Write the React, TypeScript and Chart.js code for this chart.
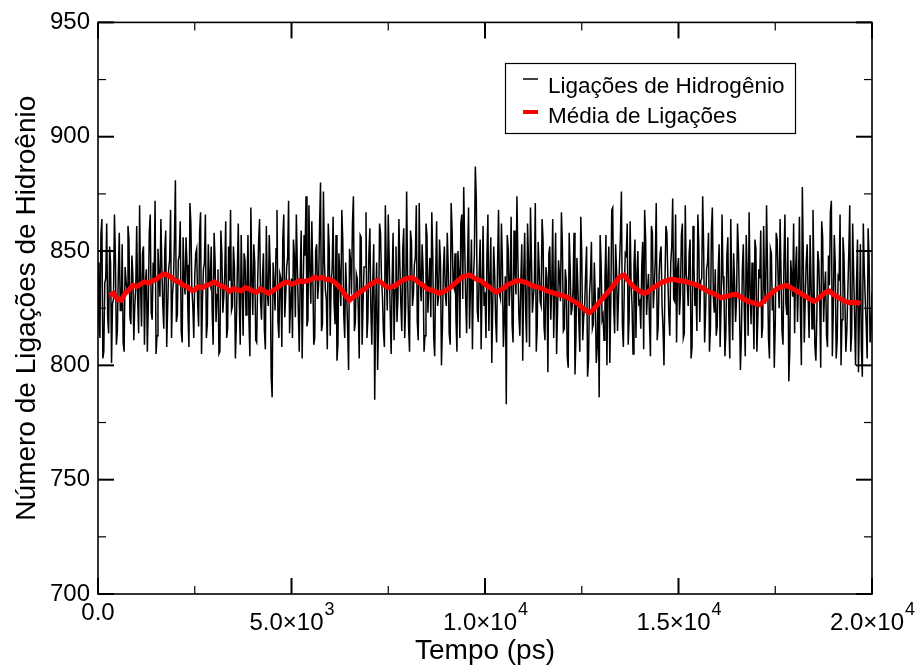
import React, { useEffect, useRef } from "react";
import { Chart, registerables } from "chart.js";

Chart.register(...registerables);

const FONT = "'Liberation Sans', Arial, Helvetica, sans-serif";

// Hydrogen-bond count, samples at 0, 50, 100 ... 20000 ps
const hbStartPs = 0;
const hbStepPs = 50;
const hbCounts = [
  845, 812, 864, 806, 838, 821, 852, 801, 829, 847, 815, 858, 824, 810, 843, 833, 855, 818, 840, 826,
  861, 814, 834, 849, 809, 842, 827, 866, 820, 838, 805, 851, 830, 843, 816, 859, 825, 846, 812, 837,
  881, 822, 848, 815, 856, 831, 844, 808, 862, 826, 839, 851, 817, 867, 829, 845, 812, 853, 835, 824,
  858, 819, 842, 806, 849, 830, 863, 816, 837, 824, 852, 803, 841, 828, 857, 813, 846, 833, 820, 869,
  822, 845, 810, 854, 828, 839, 815, 861, 826, 843, 786, 836, 851, 819, 840, 808, 866, 830, 847, 814,
  838, 855, 821, 844, 806, 859, 832, 848, 817, 870, 827, 841, 812, 853, 835, 880, 818, 846, 829, 862,
  813, 842, 827, 857, 809, 839, 868, 822, 845, 816, 851, 831, 874, 819, 838, 803, 856, 828, 843, 812,
  849, 825, 836, 785, 845, 818, 858, 830, 808, 841, 866, 823, 837, 811, 852, 829, 844, 815, 860, 826,
  839, 806, 854, 831, 847, 819, 871, 828, 842, 813, 857, 835, 821, 848, 804, 863, 830, 845, 817, 852,
  826, 843, 809, 859, 834, 820, 850, 812, 866, 878, 829, 845, 816, 855, 838, 887, 824, 841, 807, 861,
  832, 848, 815, 856, 826, 840, 810, 868, 829, 844, 821, 783, 851, 836, 818, 859, 831, 846, 813, 853,
  839, 824, 862, 808, 847, 830, 871, 817, 842, 826, 855, 811, 838, 849, 820, 864, 833, 805, 846, 828,
  852, 816, 837, 799, 843, 825, 858, 812, 834, 806, 849, 821, 840, 795, 831, 854, 818, 829, 808, 786,
  845, 822, 838, 800, 852, 827, 869, 814, 841, 830, 857, 818, 835, 848, 809, 863, 826, 844, 812, 850,
  828, 843, 807, 856, 833, 819, 861, 825, 846, 811, 840, 852, 816, 837, 858, 822, 845, 873, 828, 810,
  847, 831, 862, 814, 840, 826, 855, 808, 843, 834, 866, 819, 838, 851, 823, 845, 806, 859, 830, 842,
  817, 853, 826, 839, 804, 848, 821, 864, 811, 836, 829, 850, 798, 842, 824, 857, 813, 834, 845, 807,
  851, 820, 838, 812, 861, 827, 843, 803, 849, 832, 818, 855, 825, 840, 809, 866, 822, 793, 846, 830,
  814, 852, 836, 823, 878, 810, 845, 829, 857, 816, 839, 802, 850, 827, 863, 819, 841, 808, 835, 872,
  824, 845, 811, 838, 800, 856, 828, 815, 849, 806, 862, 821, 836, 797, 853, 795, 842, 818, 860, 810,
  832,
];

// Hydrogen-bond count, samples at 25, 75, 125 ... 19975 ps
const hbMidStartPs = 25;
const hbMidCounts = [
  818, 857, 803, 836, 862, 814, 845, 827, 866, 809, 840, 824, 853, 806, 837, 861, 821, 848, 811, 834,
  829, 870, 817, 852, 836, 806, 858, 823, 845, 872, 813, 839, 864, 826, 850, 808, 842, 868, 831, 855,
  819, 846, 863, 810, 838, 856, 822, 871, 834, 812, 849, 827, 858, 805, 842, 866, 818, 837, 852, 809,
  846, 831, 805, 859, 823, 840, 812, 852, 868, 826, 843, 818, 862, 809, 835, 849, 822, 857, 804, 838,
  853, 811, 836, 864, 820, 849, 807, 832, 857, 795, 845, 824, 868, 812, 838, 855, 821, 843, 872, 827,
  812, 848, 866, 825, 839, 803, 857, 874, 820, 842, 863, 809, 850, 829, 861, 815, 876, 833, 807, 851,
  836, 865, 818, 802, 849, 826, 855, 812, 831, 798, 846, 862, 815, 840, 825, 857, 809, 843, 867, 821,
  860, 809, 853, 826, 798, 862, 838, 815, 870, 824, 846, 805, 858, 833, 819, 864, 827, 851, 812, 876,
  817, 859, 826, 844, 870, 811, 838, 853, 806, 862, 823, 847, 867, 812, 840, 826, 855, 800, 842, 831,
  858, 814, 871, 836, 849, 806, 841, 862, 829, 853, 814, 869, 835, 807, 848, 873, 819, 855, 834, 826,
  812, 866, 837, 801, 852, 820, 845, 831, 862, 808, 839, 857, 826, 865, 810, 843, 874, 822, 836, 802,
  858, 810, 845, 869, 823, 836, 806, 854, 828, 864, 817, 843, 797, 852, 835, 812, 858, 824, 839, 867,
  815, 842, 804, 858, 822, 833, 796, 847, 819, 865, 811, 826, 852, 802, 839, 816, 845, 801, 834, 857,
  820, 811, 857, 839, 801, 868, 826, 853, 815, 844, 876, 808, 849, 862, 821, 836, 805, 855, 840, 827,
  816, 854, 868, 822, 840, 804, 858, 835, 871, 817, 849, 826, 800, 861, 838, 813, 852, 829, 866, 842,
  822, 857, 812, 870, 836, 849, 803, 861, 826, 815, 853, 837, 874, 810, 842, 858, 816, 869, 823, 813,
  841, 808, 866, 832, 815, 856, 803, 837, 849, 819, 862, 826, 813, 853, 804, 840, 867, 818, 829, 855,
  806, 842, 859, 817, 833, 870, 812, 851, 824, 799, 858, 837, 864, 815, 846, 827, 856, 806, 839, 862,
  842, 819, 865, 800, 847, 829, 853, 812, 837, 868, 808, 822, 845, 799, 856, 833, 813, 848, 867, 804,
  857, 803, 839, 866, 820, 848, 806, 832, 870, 814, 841, 800, 855, 823, 808, 862, 829, 803, 847, 816,
];

// Running average, sampled every 100 ps from 300 ps
const avgStartPs = 300;
const avgStepPs = 100;
const avgCounts = [
  830.5, 831.5, 829.0, 828.5, 831.5, 833.0, 835.0, 834.5, 835.5, 836.5,
  836.0, 837.0, 837.5, 839.0, 840.0, 839.5, 838.5, 837.0, 836.5, 835.0,
  834.5, 833.0, 833.0, 834.5, 834.0, 835.0, 835.5, 836.5, 835.5, 834.5,
  834.0, 832.5, 833.5, 833.0, 832.5, 834.0, 833.5, 832.5, 832.0, 833.5,
  832.5, 831.5, 832.5, 833.5, 835.0, 836.0, 836.5, 835.5, 836.0, 837.0,
  836.5, 837.0, 837.5, 838.5, 838.0, 838.5, 837.5, 837.5, 836.5, 835.0,
  833.0, 830.5, 828.5, 830.0, 831.0, 832.5, 833.5, 835.0, 836.0, 837.0,
  836.5, 835.0, 834.0, 834.5, 835.0, 836.5, 837.5, 838.0, 838.5, 837.5,
  836.0, 835.0, 833.5, 833.0, 832.5, 831.5, 832.0, 833.0, 834.0, 835.5,
  837.0, 838.5, 839.0, 839.5, 838.5, 837.5, 837.0, 835.5, 834.5, 833.0,
  832.0, 833.0, 834.0, 835.5, 836.0, 837.0, 837.0, 836.5, 836.0, 835.0,
  834.5, 834.0, 833.5, 832.5, 832.0, 831.5, 831.0, 830.5, 830.0, 829.0,
  828.0, 827.0, 825.5, 824.0, 823.0, 824.5, 826.5, 828.5, 830.5, 832.5,
  834.5, 837.0, 839.0, 839.5, 837.0, 835.0, 833.5, 832.5, 831.5, 832.0,
  833.5, 834.5, 835.5, 836.5, 837.0, 837.5, 837.5, 837.0, 837.0, 836.5,
  836.0, 835.5, 835.0, 834.0, 833.0, 832.0, 831.5, 830.5, 829.5, 830.0,
  830.5, 831.0, 831.0, 830.0, 829.0, 828.0, 827.5, 827.0, 826.5, 828.0,
  830.0, 831.5, 833.0, 834.0, 834.5, 835.0, 834.0, 833.0, 832.0, 831.0,
  830.0, 829.0, 828.0, 829.0, 830.5, 832.0, 832.5, 831.0, 830.0, 829.0,
  828.0, 827.5, 827.5, 827.5, 827.0,
];

const seriesLabels = ["Ligações de Hidrogênio", "Média de Ligações"];
const seriesColors = ["#000000", "#ff0000"];

const xMin = 0;
const xMax = 20000;
const yMin = 700;
const yMax = 950;
const yMajorStep = 50;
const yMinorStep = 25;
const xMajorStep = 5000;
const xMinorStep = 2500;

const xTickValues = [0, 5000, 10000, 15000, 20000];
const xTickMantissas = ["0.0", "5.0", "1.0", "1.5", "2.0"];
const xTickExponents = ["", "3", "4", "4", "4"];

const xTitle = "Tempo (ps)";
const yTitle = "Número de Ligações de Hidroênio";

const decorPlugin = {
  id: "graceDecor",
  afterDatasetsDraw(chart: any) {
    const { ctx, chartArea: a, scales } = chart;
    const xs = scales.x;
    const ys = scales.y;
    ctx.save();
    ctx.strokeStyle = "#000";
    ctx.lineCap = "butt";
    const line = (x1: number, y1: number, x2: number, y2: number) => {
      ctx.beginPath();
      ctx.moveTo(x1, y1);
      ctx.lineTo(x2, y2);
      ctx.stroke();
    };
    for (let v = xMin; v <= xMax; v += xMinorStep) {
      const major = v % xMajorStep === 0;
      const len = major ? 16 : 8;
      ctx.lineWidth = major ? 2 : 1.2;
      const px = xs.getPixelForValue(v);
      line(px, a.bottom, px, a.bottom - len);
      line(px, a.top, px, a.top + len);
    }
    for (let v = yMin; v <= yMax; v += yMinorStep) {
      const major = v % yMajorStep === 0;
      const len = major ? 16 : 8;
      ctx.lineWidth = major ? 2 : 1.2;
      const py = ys.getPixelForValue(v);
      line(a.left, py, a.left + len, py);
      line(a.right, py, a.right - len, py);
    }
    ctx.lineWidth = 1.6;
    ctx.strokeRect(a.left, a.top, a.right - a.left, a.bottom - a.top);

    ctx.fillStyle = "#000";
    ctx.textBaseline = "alphabetic";
    xTickValues.forEach((v, i) => {
      const px = xs.getPixelForValue(v);
      const exp = xTickExponents[i];
      if (!exp) {
        ctx.font = `24px ${FONT}`;
        ctx.textAlign = "center";
        ctx.fillText(xTickMantissas[i], px, a.bottom + 26);
      } else {
        const base = `${xTickMantissas[i]}×10`;
        ctx.font = `24px ${FONT}`;
        const wb = ctx.measureText(base).width;
        ctx.font = `18px ${FONT}`;
        const we = ctx.measureText(exp).width;
        const x0 = px - (wb + we) / 2;
        ctx.textAlign = "left";
        ctx.font = `24px ${FONT}`;
        ctx.fillText(base, x0, a.bottom + 36);
        ctx.font = `18px ${FONT}`;
        ctx.fillText(exp, x0 + wb + 1, a.bottom + 21);
      }
    });

    const lx = 505.5;
    const ly = 63.5;
    const lw = 290;
    const lh = 70;
    ctx.fillStyle = "#fff";
    ctx.fillRect(lx, ly, lw, lh);
    ctx.lineWidth = 1.2;
    ctx.strokeStyle = "#000";
    ctx.strokeRect(lx, ly, lw, lh);
    const rows = [
      { sampleY: 79, textY: 93 },
      { sampleY: 112, textY: 123 },
    ];
    chart.data.datasets.forEach((ds: any, i: number) => {
      const r = rows[i];
      ctx.strokeStyle = ds.borderColor;
      ctx.lineWidth = i === 0 ? 1.5 : 4;
      line(523, r.sampleY, 538, r.sampleY);
      ctx.fillStyle = "#000";
      ctx.font = `22.5px ${FONT}`;
      ctx.textAlign = "left";
      ctx.textBaseline = "alphabetic";
      ctx.fillText(ds.label, 548, r.textY);
    });
    ctx.restore();
  },
};

export default function App() {
  const canvasRef = useRef<HTMLCanvasElement | null>(null);

  useEffect(() => {
    document.body.style.margin = "0";
    const canvas = canvasRef.current;
    if (!canvas) return;
    const hbData = [
      ...hbCounts.map((y, i) => ({ x: hbStartPs + i * hbStepPs, y })),
      ...hbMidCounts.map((y, i) => ({ x: hbMidStartPs + i * hbStepPs, y })),
    ].sort((p, q) => p.x - q.x);
    const avgData = avgCounts.map((y, i) => ({ x: avgStartPs + i * avgStepPs, y }));
    const chart = new Chart(canvas, {
      type: "line",
      data: {
        datasets: [
          {
            label: seriesLabels[0],
            data: hbData,
            borderColor: seriesColors[0],
            borderWidth: 1.5,
            pointRadius: 0,
            fill: false,
            tension: 0,
            order: 2,
          },
          {
            label: seriesLabels[1],
            data: avgData,
            borderColor: seriesColors[1],
            borderWidth: 5,
            pointRadius: 0,
            fill: false,
            tension: 0,
            order: 1,
          },
        ],
      },
      options: {
        animation: false,
        responsive: false,
        maintainAspectRatio: false,
        devicePixelRatio: 1,
        layout: { padding: { left: 0, top: 22, right: 48, bottom: 0 } },
        plugins: {
          legend: { display: false },
          tooltip: { enabled: false },
        },
        scales: {
          x: {
            type: "linear",
            min: xMin,
            max: xMax,
            grid: { display: false, drawTicks: false },
            border: { display: false },
            ticks: { display: false },
            title: {
              display: true,
              text: xTitle,
              color: "#000",
              font: { family: FONT, size: 28 },
              padding: { top: 0, bottom: 0 },
            },
            afterFit(scale: any) {
              scale.height = 74;
            },
          },
          y: {
            type: "linear",
            min: yMin,
            max: yMax,
            grid: { display: false, drawTicks: false },
            border: { display: false },
            ticks: {
              stepSize: yMajorStep,
              color: "#000",
              padding: 8,
              font: { family: FONT, size: 24 },
            },
            title: {
              display: true,
              text: yTitle,
              color: "#000",
              font: { family: FONT, size: 28 },
              padding: { top: 10, bottom: 0 },
            },
            afterFit(scale: any) {
              scale.width = 98;
            },
          },
        },
      },
      plugins: [decorPlugin],
    });
    return () => chart.destroy();
  }, []);

  return (
    <div style={{ width: 920, height: 668, background: "#fff" }}>
      <canvas ref={canvasRef} width={920} height={668} style={{ display: "block" }} />
    </div>
  );
}
